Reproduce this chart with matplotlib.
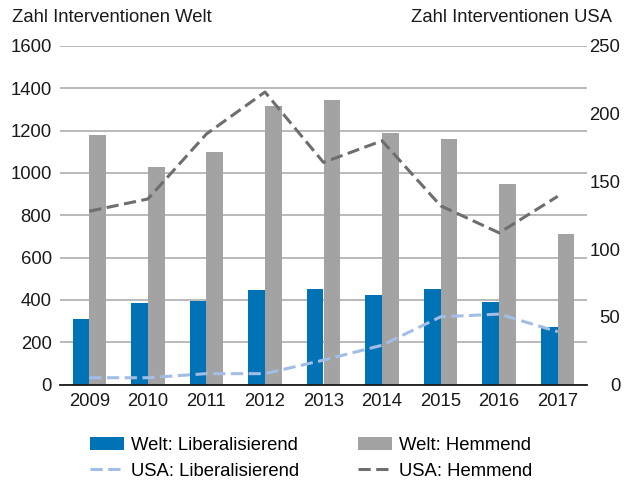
import matplotlib.pyplot as plt
import numpy as np

# Data
years = ["2009", "2010", "2011", "2012", "2013", "2014", "2015", "2016", "2017"]
welt_lib = [308, 384, 396, 447, 450, 423, 451, 390, 270]
welt_hem = [1178, 1027, 1101, 1317, 1346, 1191, 1162, 948, 711]
usa_lib = [5, 5, 8, 8, 18, 29, 50, 52, 39]
usa_hem = [128, 137, 185, 216, 164, 180, 132, 112, 139]

left_ticks = [0, 200, 400, 600, 800, 1000, 1200, 1400, 1600]
right_ticks = [0, 50, 100, 150, 200, 250]

plt.rcParams['font.family'] = ['Liberation Sans', 'DejaVu Sans']
fs = 13.3

blue = "#0072b6"
grey = "#a3a3a3"
dark = "#6e6e6e"
light = "#a2bde6"

fig = plt.figure(figsize=(6.26, 4.8), dpi=100)
ax = fig.add_axes([60 / 626, 1 - 384.5 / 480, 527 / 626, (384.5 - 46) / 480])

x = np.arange(len(years))
w = 0.285
b1 = ax.bar(x - w / 2, welt_lib, w, color=blue, zorder=2, label="Welt: Liberalisierend")
b2 = ax.bar(x + w / 2, welt_hem, w, color=grey, zorder=2, label="Welt: Hemmend")

ax.set_xlim(-0.5, len(years) - 0.5)
ax.set_ylim(0, 1600)
ax.set_yticks(left_ticks)
ax.set_xticks(x)
ax.set_xticklabels(years)
ax.grid(axis="y", color="#b4b4b4", lw=1.3, zorder=0)
ax.tick_params(axis="y", length=0, pad=6, labelsize=fs, colors="#1a1a1a")
ax.tick_params(axis="x", length=0, pad=6, labelsize=fs, colors="#1a1a1a")
for s in ["top", "left", "right"]:
    ax.spines[s].set_visible(False)
ax.spines["bottom"].set_color("#1a1a1a")
ax.spines["bottom"].set_linewidth(1.3)
ax.spines["bottom"].set_zorder(3)

ax2 = ax.twinx()
l1, = ax2.plot(x, usa_lib, color=light, lw=2.2, dashes=(4, 1.8), label="USA: Liberalisierend")
l2, = ax2.plot(x, usa_hem, color=dark, lw=2.2, dashes=(4, 1.8), label="USA: Hemmend")
ax2.set_ylim(0, 250)
ax2.set_yticks(right_ticks)
ax2.tick_params(axis="y", length=0, pad=24, labelsize=fs, colors="#1a1a1a")
for lab in ax2.get_yticklabels():
    lab.set_horizontalalignment("right")
for s in ax2.spines.values():
    s.set_visible(False)

fig.text(12 / 626, 1 - 18 / 480, "Zahl Interventionen Welt", ha="left", va="center",
         fontsize=fs, color="#1a1a1a")
fig.text(612 / 626, 1 - 18 / 480, "Zahl Interventionen USA", ha="right", va="center",
         fontsize=fs, color="#1a1a1a")

fig.legend([b1, l1, b2, l2],
           ["Welt: Liberalisierend", "USA: Liberalisierend", "Welt: Hemmend", "USA: Hemmend"],
           ncol=2, loc="upper left", bbox_to_anchor=(90 / 626, 1 - 437 / 480),
           frameon=False, borderpad=0, borderaxespad=0, handlelength=1.85,
           handletextpad=0.35, columnspacing=3.2, labelspacing=0.48, fontsize=fs)

fig.savefig("out.png", dpi=100)
